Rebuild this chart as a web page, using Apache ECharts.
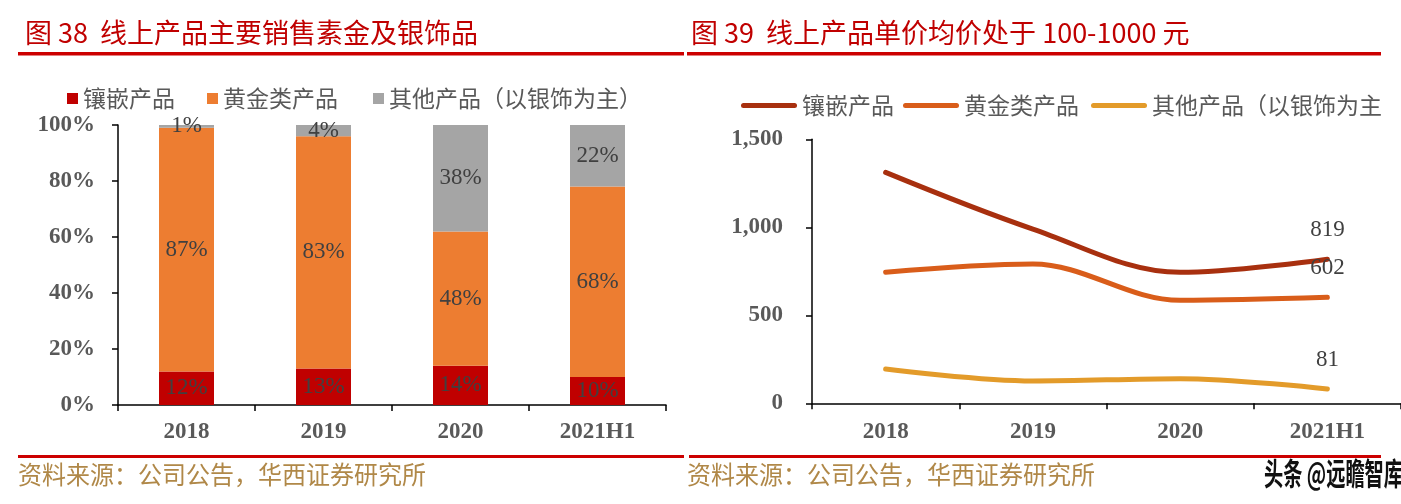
<!DOCTYPE html>
<html>
<head>
<meta charset="utf-8">
<script src="https://cdn.jsdelivr.net/npm/echarts@6/dist/echarts.min.js"></script>
<style>
html,body{margin:0;padding:0;background:#fff;}
#c{width:1401px;height:504px;}
</style>
</head>
<body>
<div id="c"></div>
<script>
// ---- data ----
const categories = ['2018', '2019', '2020', '2021H1'];
const barNames = ['镶嵌产品', '黄金类产品', '其他产品（以银饰为主）'];
const barInlay = [12, 13, 14, 10];
const barGold = [87, 83, 48, 68];
const barOther = [1, 4, 38, 22];
const lineNames = ['镶嵌产品', '黄金类产品', '其他产品（以银饰为主'];
const priceInlay = [1312, 990, 744, 819];
const priceGold = [744, 791, 585, 602];
const priceOther = [195, 127, 140, 81];
const pctTicks = [0, 20, 40, 60, 80, 100];
const priceTicks = [0, 500, 1000, 1500];
const titleLeft = '图 38  线上产品主要销售素金及银饰品';
const titleRight = '图 39  线上产品单价均价处于 100-1000 元';
const sourceText = '资料来源：公司公告，华西证券研究所';
const watermark = '头条 @远瞻智库';

// ---- styles ----
const CJK = '"Noto Sans CJK SC", "Noto Sans", sans-serif';
const SERIF = '"Liberation Serif", "DejaVu Serif", serif';
const axisLabelStyle = {fontFamily: SERIF, fontWeight: 'bold', fontSize: 23, color: '#595959'};
const barColors = ['#C00000', '#ED7D31', '#A5A5A5'];
const lineColors = ['#A8300F', '#D95D1A', '#E39B2A'];
const capsule = 'path://M2.5,0 L53.5,0 A2.5,2.5 0 0 1 53.5,5 L2.5,5 A2.5,2.5 0 0 1 2.5,0 Z';
const SUF = '#2';

const chart = echarts.init(document.getElementById('c'), null, {renderer: 'canvas'});

function barSeries(name, data, color) {
  return {
    name: name, type: 'bar', stack: 'pct', xAxisIndex: 0, yAxisIndex: 0,
    data: data, barWidth: 55,
    itemStyle: {color: color},
    label: {show: true, position: 'inside', formatter: '{c}%',
      fontFamily: SERIF, fontSize: 23, color: '#404040'}
  };
}
function lineSeries(name, data, color) {
  const last = data.length - 1;
  return {
    name: name + SUF, type: 'line', xAxisIndex: 1, yAxisIndex: 1,
    smooth: 0.35, symbol: 'circle', symbolSize: 0, showSymbol: true,
    lineStyle: {width: 5, color: color, cap: 'round', join: 'round'},
    itemStyle: {color: color},
    label: {show: false},
    data: data.map((v, i) => i === last ? {value: v,
      label: {show: true, position: 'top', distance: 18, fontFamily: SERIF, fontSize: 23, color: '#404040'}} : v),
    z: 3
  };
}

const legendText = {fontFamily: CJK, fontSize: 23, color: '#595959'};

const option = {
  animation: false,
  backgroundColor: '#ffffff',
  title: [
    {text: titleLeft, left: 20, top: 14, textStyle: {fontFamily: CJK, fontWeight: 'normal', fontSize: 27, color: '#C00000'}},
    {text: titleRight, left: 686, top: 14, textStyle: {fontFamily: CJK, fontWeight: 'normal', fontSize: 27, color: '#C00000'}}
  ],
  legend: [
    {data: [barNames[0]], left: 62, top: 82, icon: 'rect', itemWidth: 11, itemHeight: 11, itemGap: 0, textStyle: legendText, selectedMode: false},
    {data: [barNames[1]], left: 202, top: 82, icon: 'rect', itemWidth: 11, itemHeight: 11, itemGap: 0, textStyle: legendText, selectedMode: false},
    {data: [barNames[2]], left: 368, top: 82, icon: 'rect', itemWidth: 11, itemHeight: 11, itemGap: 0, textStyle: legendText, selectedMode: false},
    {data: [lineNames[0] + SUF], left: 736, top: 89, icon: capsule, itemWidth: 56, itemHeight: 5, textStyle: legendText, selectedMode: false,
      formatter: n => n.replace(SUF, ''), itemStyle: {borderWidth: 0}},
    {data: [lineNames[1] + SUF], left: 898, top: 89, icon: capsule, itemWidth: 56, itemHeight: 5, textStyle: legendText, selectedMode: false,
      formatter: n => n.replace(SUF, ''), itemStyle: {borderWidth: 0}},
    {data: [lineNames[2] + SUF], left: 1086, top: 89, icon: capsule, itemWidth: 56, itemHeight: 5, textStyle: legendText, selectedMode: false,
      formatter: n => n.replace(SUF, ''), itemStyle: {borderWidth: 0}}
  ],
  grid: [
    {left: 118, top: 125, width: 548, height: 280, containLabel: false},
    {left: 812, top: 139.3, width: 594, height: 264, containLabel: false}
  ],
  xAxis: [
    {type: 'category', gridIndex: 0, data: categories,
      axisLine: {lineStyle: {color: '#000', width: 1.5}},
      axisTick: {show: true, length: 6, lineStyle: {color: '#000', width: 1.5}},
      axisLabel: Object.assign({margin: 16}, axisLabelStyle)},
    {type: 'category', gridIndex: 1, data: categories,
      axisLine: {lineStyle: {color: '#000', width: 1.5}},
      axisTick: {show: true, length: 6, lineStyle: {color: '#000', width: 1.5}},
      axisLabel: Object.assign({margin: 17}, axisLabelStyle)}
  ],
  yAxis: [
    {type: 'value', gridIndex: 0, min: pctTicks[0], max: pctTicks[pctTicks.length - 1], interval: 20,
      axisLine: {show: true, lineStyle: {color: '#000', width: 1.5}},
      axisTick: {show: true, length: 6, lineStyle: {color: '#000', width: 1.5}},
      splitLine: {show: false},
      axisLabel: Object.assign({margin: 23, formatter: '{value}%'}, axisLabelStyle)},
    {type: 'value', gridIndex: 1, min: priceTicks[0], max: priceTicks[priceTicks.length - 1], interval: 500,
      axisLine: {show: true, lineStyle: {color: '#000', width: 1.5}},
      axisTick: {show: true, length: 6, lineStyle: {color: '#000', width: 1.5}},
      splitLine: {show: false},
      axisLabel: Object.assign({margin: 29, formatter: v => v.toLocaleString('en-US')}, axisLabelStyle)}
  ],
  series: [
    barSeries(barNames[0], barInlay, barColors[0]),
    barSeries(barNames[1], barGold, barColors[1]),
    barSeries(barNames[2], barOther, barColors[2]),
    lineSeries(lineNames[0], priceInlay, lineColors[0]),
    lineSeries(lineNames[1], priceGold, lineColors[1]),
    lineSeries(lineNames[2], priceOther, lineColors[2])
  ],
  graphic: [
    {type: 'rect', shape: {x: 18, y: 52, width: 666, height: 3.5}, style: {fill: '#CC0000'}, silent: true},
    {type: 'rect', shape: {x: 687, y: 52, width: 694, height: 3.5}, style: {fill: '#CC0000'}, silent: true},
    {type: 'rect', shape: {x: 18, y: 455, width: 666, height: 3}, style: {fill: '#CC0000'}, silent: true},
    {type: 'rect', shape: {x: 689, y: 455, width: 692, height: 3}, style: {fill: '#CC0000'}, silent: true},
    {type: 'text', x: 18, y: 462, silent: true, scaleX: 0.96,
      style: {text: sourceText, fontFamily: CJK, fontSize: 25, fill: '#B08848'}},
    {type: 'text', x: 687, y: 462, silent: true, scaleX: 0.96,
      style: {text: sourceText, fontFamily: CJK, fontSize: 25, fill: '#B08848'}},
    {type: 'rect', shape: {x: 1258, y: 459, width: 143, height: 36}, style: {fill: '#fff'}, z: 9, silent: true},
    {type: 'text', x: 1264, y: 458, z: 10, silent: true, scaleX: 0.62,
      style: {text: watermark, fontFamily: CJK, fontWeight: 'bold', fontSize: 31, fill: '#111'}}
  ]
};
chart.setOption(option);
</script>
</body>
</html>
